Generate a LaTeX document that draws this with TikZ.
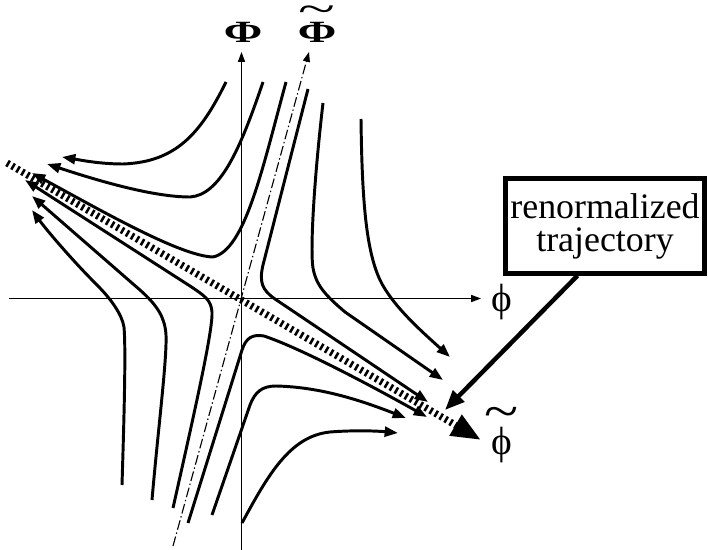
\documentclass[tikz,border=0pt]{standalone}
\usepackage{fontspec}
\usepackage{graphicx}
\setmainfont{Liberation Serif}
\usetikzlibrary{arrows.meta}
\newcommand\tildeon[3]{\ooalign{#3\cr\hidewidth\raisebox{#1}{\mdseries\scalebox{#2}[1.3]{\textasciitilde}}\hidewidth\cr}}

\begin{document}
\begin{tikzpicture}[x=0.025cm,y=-0.025cm,
  axis/.style={line width=0.9pt,-{Triangle[length=7pt,width=5pt]}},
  flow/.style={line width=2.1pt,-{Triangle[length=9.5pt,width=7pt]}},
  rail/.style={line width=5pt,dash pattern=on 1.8pt off 2.3pt,-{Triangle[length=21pt,width=16pt]}},
  axlabel/.style={font=\fontsize{28}{30}\selectfont,inner sep=0pt,anchor=base},
  caplabel/.style={font=\fontsize{22}{24}\selectfont\bfseries,inner sep=0pt,anchor=base}]
\useasboundingbox (0,0) rectangle (708,550);
% axes
\coordinate (O) at (241.5,298.5);
\coordinate (xl) at (9,298.5);
\coordinate (xr) at (481,298.5);
\coordinate (yb) at (241.5,550);
\coordinate (yt) at (241.5,52);
\coordinate (tb) at (173,546);
\coordinate (tt) at (309,52);
\draw[axis] (xl) -- (xr);
\draw[axis] (yb) -- (yt);
\draw[axis,line width=0.8pt,dash pattern=on 7pt off 2pt on 1pt off 2pt] (tb) -- (tt);
\node[caplabel] (Phi) at (243,43) {\scalebox{1.5}[1]{Φ}};
\node[caplabel] (tPhi) at (317,43) {\tildeon{14.3pt}{2.2}{\scalebox{1.5}[1]{Φ}}};
\node[axlabel] (phi) at (502,311) {ϕ};
\node[axlabel] (tphi) at (502,454) {\tildeon{17.9pt}{1.6}{ϕ}};
% flow lines, left side
\draw[flow] (226,82) .. controls (200,135) and (175,162) .. (123,164) .. controls (100,164) and (80,160) .. (62,157);
\draw[flow] (263,82) .. controls (240,150) and (220,195) .. (190,197) .. controls (150,197) and (90,178) .. (47,164);
\draw[flow] (286,82) .. controls (262,170) and (245,250) .. (213,257) .. controls (180,256) and (100,210) .. (32,173);
\draw[flow] (173,508) .. controls (195,410) and (213,330) .. (212,312) .. controls (211,300) and (205,296) .. (190,286) -- (25,180);
\draw[flow] (152,500) .. controls (158,430) and (167,360) .. (166,335) .. controls (165,318) and (158,306) .. (140,290) -- (32,196);
\draw[flow] (122,485) .. controls (124,420) and (126,350) .. (124,327) .. controls (122,315) and (112,300) .. (97,285) .. controls (70,258) and (45,228) .. (32,210);
% flow lines, right side
\draw[flow] (308,89) -- (263,265) .. controls (259,282) and (262,290) .. (275,299) -- (428,402);
\draw[flow] (323,103) .. controls (314,180) and (310,250) .. (313,268) .. controls (316,285) and (325,295) .. (345,312) -- (443,380);
\draw[flow] (361,119) .. controls (362,200) and (366,250) .. (380,280) .. controls (392,305) and (420,330) .. (450,357);
\draw[flow] (188,523) -- (242,350) .. controls (246,338) and (252,334) .. (264,336) .. controls (300,348) and (370,385) .. (427,417);
\draw[flow] (212,515) -- (250,405) .. controls (255,392) and (262,386) .. (276,386) .. controls (320,387) and (360,400) .. (406,418);
\draw[flow] (242,523) .. controls (268,475) and (290,436) .. (330,432) .. controls (355,430) and (378,431) .. (398,433);
% renormalized trajectory
\coordinate (rs) at (7,163);
\coordinate (re) at (481,440);
\draw[rail] (rs) -- (re);
\node[draw,line width=3.5pt,minimum width=142pt,minimum height=67pt,align=center,
  font=\fontsize{25.5}{23.5}\selectfont] (box) at (605,226) {renormalized\\trajectory};
\coordinate (hit) at (445,410);
\draw[line width=3.2pt,-{Triangle[length=14pt,width=11pt]}] (box.241) -- (hit);
\end{tikzpicture}
\end{document}
